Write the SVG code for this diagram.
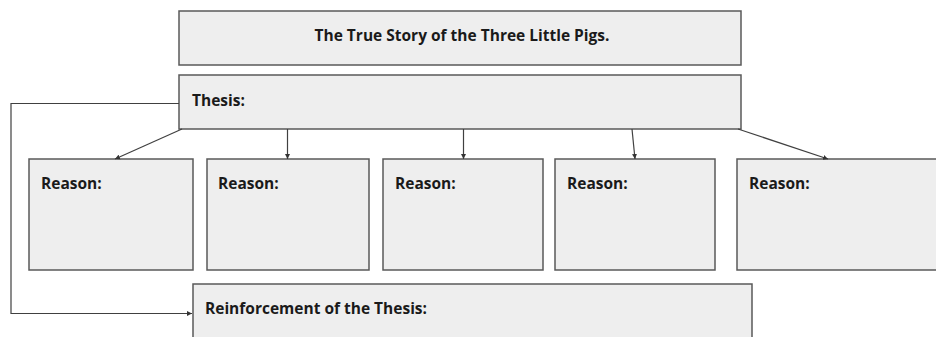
<svg xmlns="http://www.w3.org/2000/svg" width="936" height="337" viewBox="0 0 936 337">
<style>
.box{fill:#eeeeee;stroke:#595959;stroke-width:1.5}
.t{font-family:"Open Sans","Liberation Sans",sans-serif;font-weight:bold;font-size:15.5px;fill:#1a1a1a}
.c{fill:none;stroke:#404040;stroke-width:1.2}
</style>
<defs>
<marker id="ah" markerWidth="6" markerHeight="6" refX="5" refY="3" orient="auto" markerUnits="userSpaceOnUse">
<path d="M0,0.5 L5,3 L0,5.5 Z" fill="#333"/>
</marker>
</defs>
<g id="title"><rect class="box" x="179" y="11" width="562" height="54"/><text class="t" x="462" y="41" text-anchor="middle">The True Story of the Three Little Pigs.</text></g>
<g id="thesis"><rect class="box" x="179" y="75" width="562" height="54"/><text class="t" x="192" y="106">Thesis:</text></g>
<g id="reason1"><rect class="box" x="29" y="159" width="164" height="111"/><text class="t" x="41" y="189">Reason:</text></g>
<g id="reason2"><rect class="box" x="207" y="159" width="162" height="111"/><text class="t" x="218" y="189">Reason:</text></g>
<g id="reason3"><rect class="box" x="383" y="159" width="160" height="111"/><text class="t" x="395" y="189">Reason:</text></g>
<g id="reason4"><rect class="box" x="555" y="159" width="160" height="111"/><text class="t" x="567" y="189">Reason:</text></g>
<g id="reason5"><rect class="box" x="737" y="159" width="210" height="111"/><text class="t" x="749" y="189">Reason:</text></g>
<g id="reinforcement"><rect class="box" x="193" y="284" width="559" height="70"/><text class="t" x="205" y="314">Reinforcement of the Thesis:</text></g>
<g id="connectors">
<path class="c" d="M182,129 L115,159" marker-end="url(#ah)"/>
<path class="c" d="M287.5,129 L287.5,159" marker-end="url(#ah)"/>
<path class="c" d="M463.5,129 L463.5,159" marker-end="url(#ah)"/>
<path class="c" d="M632,129 L635,159" marker-end="url(#ah)"/>
<path class="c" d="M738,129 L828,159" marker-end="url(#ah)"/>
<path class="c" d="M179,103.5 L11,103.5 L11,313.5 L192,313.5" marker-end="url(#ah)"/>
</g>
</svg>
